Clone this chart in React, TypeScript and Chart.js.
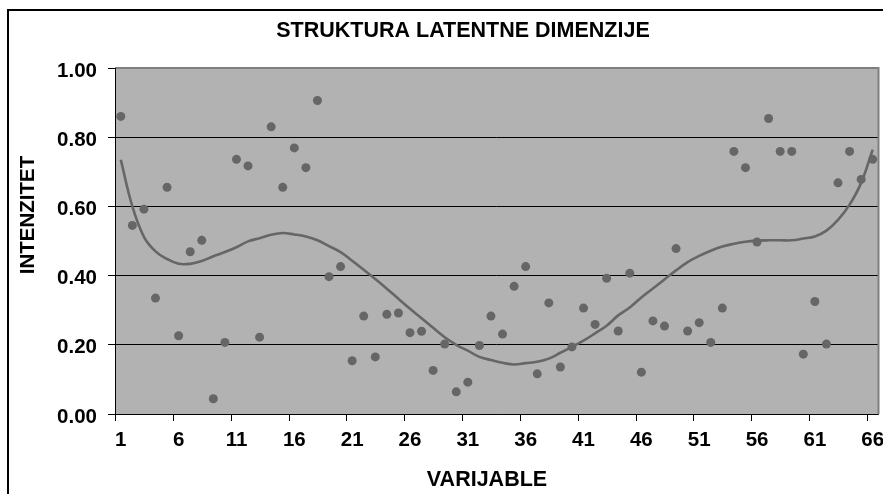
import React, { useEffect, useRef } from 'react';
import { Chart, registerables } from 'chart.js';

Chart.register(...registerables);

const chartTitle = 'STRUKTURA LATENTNE DIMENZIJE';
const xTitle = 'VARIJABLE';
const yTitle = 'INTENZITET';

const categories = [
  1, 2, 3, 4, 5, 6, 7, 8, 9, 10, 11, 12, 13, 14, 15, 16, 17, 18, 19, 20, 21, 22,
  23, 24, 25, 26, 27, 28, 29, 30, 31, 32, 33, 34, 35, 36, 37, 38, 39, 40, 41, 42,
  43, 44, 45, 46, 47, 48, 49, 50, 51, 52, 53, 54, 55, 56, 57, 58, 59, 60, 61, 62,
  63, 64, 65, 66,
];

const xTickLabels = [1, 6, 11, 16, 21, 26, 31, 36, 41, 46, 51, 56, 61, 66];

const pointValues = [
  0.86, 0.545, 0.592, 0.335, 0.655, 0.226, 0.469, 0.502, 0.044, 0.207, 0.736,
  0.717, 0.222, 0.83, 0.655, 0.769, 0.712, 0.906, 0.397, 0.426, 0.154, 0.283,
  0.165, 0.288, 0.292, 0.235, 0.239, 0.126, 0.202, 0.064, 0.092, 0.198, 0.283,
  0.231, 0.369, 0.426, 0.116, 0.321, 0.136, 0.194, 0.306, 0.259, 0.392, 0.24,
  0.407, 0.121, 0.269, 0.254, 0.478, 0.24, 0.264, 0.207, 0.306, 0.759, 0.712,
  0.497, 0.854, 0.759, 0.759, 0.173, 0.325, 0.202, 0.668, 0.759, 0.678, 0.736,
];

const trendValues = [
  0.735, 0.6, 0.512, 0.47, 0.448, 0.434, 0.434, 0.442, 0.456, 0.468, 0.482,
  0.499, 0.508, 0.518, 0.523, 0.519, 0.513, 0.502, 0.485, 0.468, 0.443, 0.417,
  0.39, 0.362, 0.333, 0.304, 0.277, 0.249, 0.222, 0.2, 0.183, 0.165, 0.156,
  0.148, 0.143, 0.147, 0.151, 0.16, 0.177, 0.194, 0.212, 0.233, 0.255, 0.285,
  0.308, 0.337, 0.363, 0.389, 0.415, 0.439, 0.457, 0.472, 0.484, 0.492, 0.498,
  0.501, 0.502, 0.502, 0.502, 0.507, 0.513, 0.53, 0.561, 0.605, 0.668, 0.764,
];

const FONT = "'Liberation Sans', Arial, sans-serif";
const GREY = '#666666';

const decor = {
  id: 'decor',
  beforeDraw(chart: any) {
    const { ctx, chartArea: a } = chart;
    ctx.save();
    ctx.fillStyle = '#ffffff';
    ctx.fillRect(0, 0, chart.width, chart.height);
    ctx.fillStyle = '#b2b2b2';
    ctx.fillRect(a.left, a.top, a.right - a.left, a.bottom - a.top);
    ctx.restore();
  },
  afterDraw(chart: any) {
    const { ctx, chartArea: a } = chart;
    const x = chart.scales.x;
    ctx.save();
    // plot area border (grey)
    ctx.strokeStyle = '#7f7f7f';
    ctx.lineWidth = 2;
    ctx.beginPath();
    ctx.moveTo(a.left, a.top);
    ctx.lineTo(a.right, a.top);
    ctx.lineTo(a.right, a.bottom);
    ctx.stroke();
    // axis lines
    ctx.strokeStyle = '#000000';
    ctx.lineWidth = 1;
    ctx.beginPath();
    ctx.moveTo(Math.round(a.left) + 0.5, a.top);
    ctx.lineTo(Math.round(a.left) + 0.5, a.bottom);
    ctx.moveTo(a.left, Math.round(a.bottom) + 0.5);
    ctx.lineTo(a.right, Math.round(a.bottom) + 0.5);
    // x tick marks between categories
    xTickLabels.forEach((c) => {
      const px = Math.round(x.getPixelForValue(c - 0.5)) + 0.5;
      ctx.moveTo(px, a.bottom);
      ctx.lineTo(px, a.bottom + 7);
    });
    ctx.stroke();
    // outer chart border
    ctx.lineWidth = 2;
    ctx.strokeRect(8, 10, 1000, 1000);
    // titles
    ctx.fillStyle = '#000000';
    ctx.textAlign = 'center';
    ctx.textBaseline = 'middle';
    ctx.font = `bold 21.5px ${FONT}`;
    ctx.fillText(chartTitle, 463, 31);
    ctx.fillText(xTitle, 487, 480);
    ctx.font = `bold 20.5px ${FONT}`;
    ctx.translate(28, 215);
    ctx.rotate(-Math.PI / 2);
    ctx.fillText(yTitle, 0, 0);
    ctx.restore();
  },
};

export default function App() {
  const canvasRef = useRef<HTMLCanvasElement | null>(null);

  useEffect(() => {
    const canvas = canvasRef.current;
    if (!canvas) return;
    const points = categories.map((c, i) => ({ x: c, y: pointValues[i] }));
    const trend = categories.map((c, i) => ({ x: c, y: trendValues[i] }));

    const chart = new Chart(canvas, {
      type: 'scatter',
      data: {
        datasets: [
          {
            type: 'scatter',
            data: points,
            pointRadius: 4.5,
            pointHoverRadius: 4.5,
            pointBackgroundColor: GREY,
            pointBorderWidth: 0,
            borderColor: GREY,
            backgroundColor: GREY,
          },
          {
            type: 'line',
            data: trend,
            showLine: true,
            pointRadius: 0,
            borderColor: GREY,
            borderWidth: 2.6,
            tension: 0.4,
            fill: false,
          } as any,
        ],
      },
      options: {
        animation: false,
        responsive: false,
        devicePixelRatio: 1,
        layout: { padding: { top: 68, right: 3, left: 0, bottom: 0 } },
        plugins: {
          legend: { display: false },
          tooltip: { enabled: false },
          title: { display: false },
        },
        scales: {
          x: {
            type: 'linear',
            min: 0.5,
            max: 66.5,
            afterBuildTicks: (scale: any) => {
              scale.ticks = xTickLabels.map((v) => ({ value: v }));
            },
            afterFit: (scale: any) => {
              scale.height = 80;
              scale.paddingLeft = 0;
              scale.paddingRight = 0;
            },
            grid: { display: true, drawOnChartArea: false, drawTicks: false },
            border: { display: false },
            ticks: {
              autoSkip: false,
              maxRotation: 0,
              minRotation: 0,
              padding: 14,
              color: '#000000',
              font: { family: FONT, size: 20.5, weight: 'bold', lineHeight: 1.2 },
              callback: (v: any) => String(v),
            },
            title: { display: false },
          },
          y: {
            min: 0,
            max: 1,
            afterFit: (scale: any) => {
              scale.width = 115;
            },
            ticks: {
              stepSize: 0.2,
              padding: 11,
              labelOffset: 3,
              color: '#000000',
              font: { family: FONT, size: 20.5, weight: 'bold', lineHeight: 1.2 },
              callback: (v: any) => Number(v).toFixed(2),
            },
            grid: {
              color: '#000000',
              lineWidth: 1,
              tickLength: 7,
              tickColor: '#000000',
            },
            border: { display: false },
            title: { display: false },
          },
        },
      } as any,
      plugins: [decor],
    });
    return () => chart.destroy();
  }, []);

  return (
    <div style={{ position: 'absolute', left: 0, top: 0, width: 883, height: 494 }}>
      <canvas ref={canvasRef} width={883} height={494} />
    </div>
  );
}
